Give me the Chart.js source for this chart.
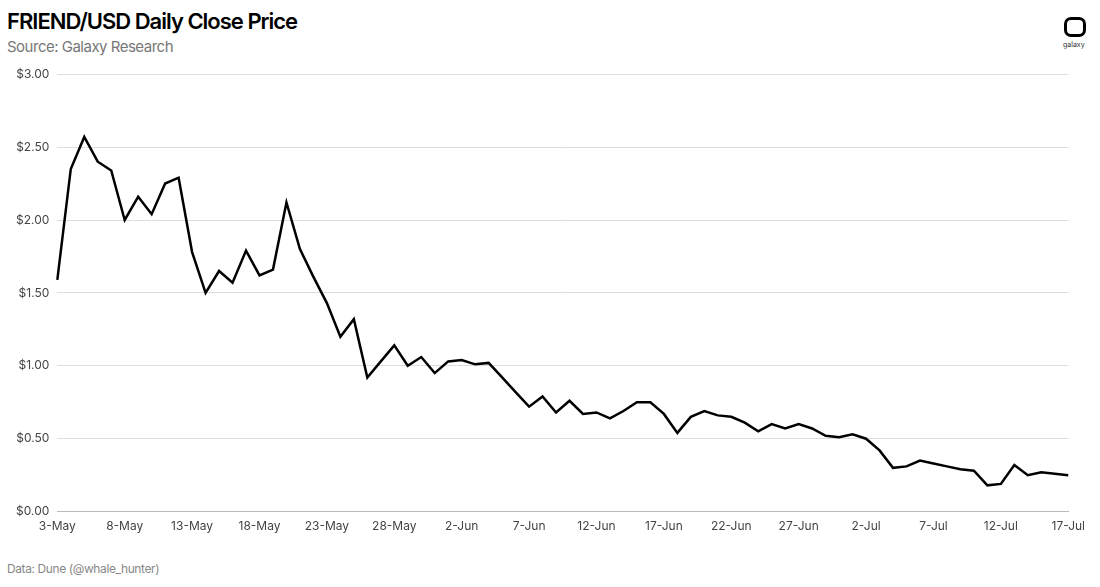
<!DOCTYPE html>
<html><head><meta charset="utf-8">
<script src="https://cdn.jsdelivr.net/npm/chart.js@4"></script>
<style>
body{margin:0;width:1100px;height:587px;background:#fff;font-family:Inter,Roboto,sans-serif;position:relative;overflow:hidden}
#t{position:absolute;left:7px;top:8px;font-size:22px;font-weight:600;letter-spacing:-1px;color:#000}
#s{position:absolute;left:7px;top:37px;font-size:15px;color:#777;letter-spacing:-0.5px}
#f{position:absolute;left:7px;top:561px;font-size:12px;color:#888;letter-spacing:-0.4px}
#logo{position:absolute;left:1064px;top:17px;width:22px;height:20px;border:3px solid #000;border-radius:7px;box-sizing:border-box}
#lt{position:absolute;left:1063px;top:40px;font-size:7px;color:#333}
#c{position:absolute;left:0;top:59px;width:1085px;height:475px}
</style></head><body>
<div id="t">FRIEND/USD Daily Close Price</div>
<div id="s">Source: Galaxy Research</div>
<div id="logo"></div><div id="lt">galaxy</div>
<div id="c"><canvas id="cv"></canvas></div>
<div id="f">Data: Dune (@whale_hunter)</div>
<script>
const tickLabels=["3-May","8-May","13-May","18-May","23-May","28-May","2-Jun","7-Jun","12-Jun","17-Jun","22-Jun","27-Jun","2-Jul","7-Jul","12-Jul","17-Jul"];
const dates=[];
(function(){const m=["May","Jun","Jul"];const n=[31,30,31];let mi=0,d=3;for(let i=0;i<76;i++){dates.push(d+"-"+m[mi]);d++;if(d>n[mi]){d=1;mi++;}}})();
const prices=[1.59,2.35,2.57,2.40,2.34,2.00,2.16,2.04,2.25,2.29,1.78,1.50,1.65,1.57,1.79,1.62,1.66,2.12,1.80,1.61,1.43,1.20,1.32,0.92,1.03,1.14,1.00,1.06,0.95,1.03,1.04,1.01,1.02,0.92,0.82,0.72,0.79,0.68,0.76,0.67,0.68,0.64,0.69,0.75,0.75,0.67,0.54,0.65,0.69,0.66,0.65,0.61,0.55,0.60,0.57,0.60,0.57,0.52,0.51,0.53,0.50,0.42,0.30,0.31,0.35,0.33,0.31,0.29,0.28,0.18,0.19,0.32,0.25,0.27,0.26,0.25];
new Chart(document.getElementById('cv'),{type:'line',
data:{labels:dates,datasets:[{data:prices,borderColor:'#000',borderWidth:2.5,pointRadius:0,tension:0}]},
options:{responsive:true,maintainAspectRatio:false,animation:false,
layout:{padding:{left:8,right:0,top:9,bottom:0}},
plugins:{legend:{display:false},tooltip:{enabled:false}},
scales:{
x:{offset:false,grid:{display:false},border:{color:'#bbb'},
ticks:{autoSkip:false,maxRotation:0,padding:0,color:'#444',font:{size:12,family:'Inter'},
callback:function(v,i){return tickLabels.includes(dates[i])?dates[i]:null;}}},
y:{min:0,max:3,grid:{color:'#ddd',drawTicks:false},border:{display:false},
ticks:{stepSize:0.5,padding:8,color:'#444',font:{size:12,family:'Inter'},callback:v=>'$'+v.toFixed(2)}}}}});
</script></body></html>
